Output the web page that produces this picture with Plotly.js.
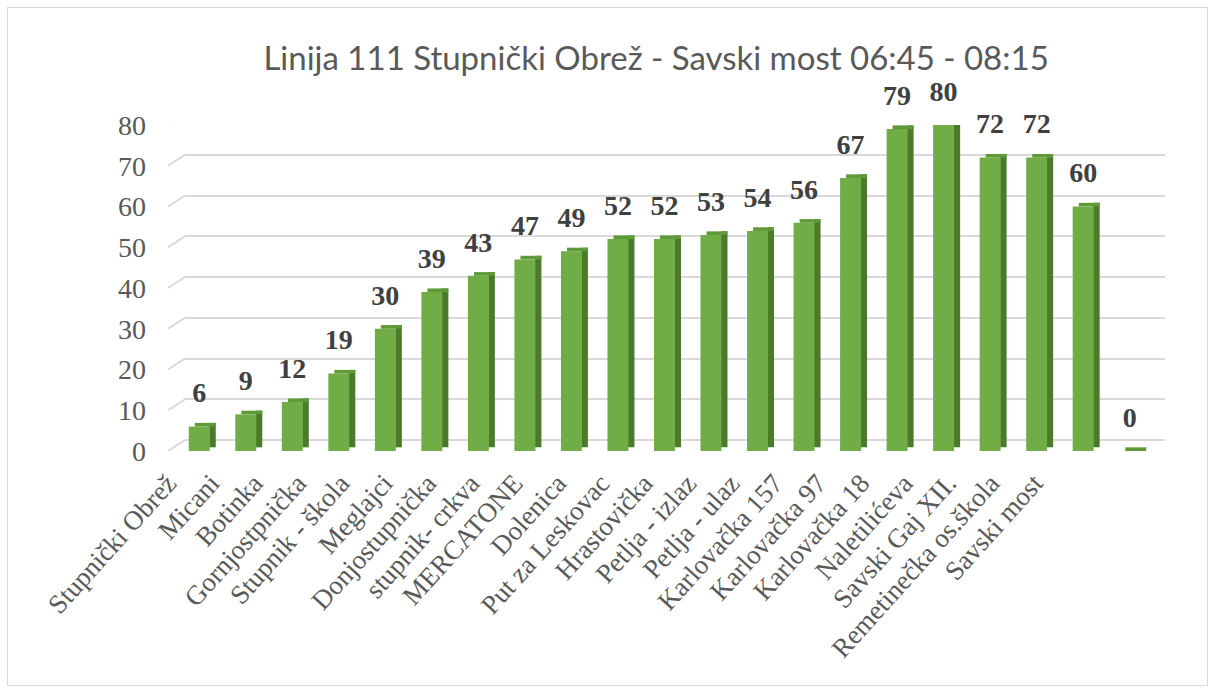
<!DOCTYPE html>
<html>
<head>
<meta charset="utf-8">
<script src="https://cdn.plot.ly/plotly-3.0.1.min.js"></script>
<style>
  html, body { margin: 0; padding: 0; background: #ffffff; }
  #wrap { position: relative; width: 1215px; height: 693px; }
  #chart { position: absolute; left: 0; top: 0; width: 1215px; height: 693px; }
  #frame { position: absolute; left: 7px; top: 7px; width: 1199px; height: 677px; border: 1px solid #d9d9d9; pointer-events: none; }
</style>
</head>
<body>
<div id="wrap">
  <div id="chart"></div>
  <div id="frame"></div>
</div>
<script>
const stops = [
  "Stupnički Obrež", "Micani", "Botinka", "Gornjostpnička", "Stupnik - škola",
  "Meglajci", "Donjostupnička", "stupnik- crkva", "MERCATONE", "Dolenica",
  "Put za Leskovac", "Hrastovička", "Petlja - izlaz", "Petlja - ulaz", "Karlovačka 157",
  "Karlovačka 97", "Karlovačka 18", "Naletilićeva", "Savski Gaj XII.", "Remetinečka os.škola",
  "Savski most"
];
const passengers = [6, 9, 12, 19, 30, 39, 43, 47, 49, 52, 52, 53, 54, 56, 67, 79, 80, 72, 72, 60, 0];
const titleText = "Linija 111 Stupnički Obrež - Savski most 06:45 - 08:15";
const yTicks = [0, 10, 20, 30, 40, 50, 60, 70, 80];

const SERIF = "'Liberation Serif', 'Times New Roman', serif";
const DEPTH = 0.9;        // visual depth of the bar 3D effect (axis units)
const WALL_SHIFT = 2.7;   // back-wall gridline lift (axis units)
const FRONT_W = 0.45;
const SIDE_W = 0.14;

// back wall (gridlines only) lives on x / y
const wallTrace = {
  type: "scatter", mode: "lines", x: [], y: [], xaxis: "x", yaxis: "y",
  hoverinfo: "skip", showlegend: false
};
// category labels (perspective-spaced, as in the 3D original) live on x3
const labelAxisTrace = {
  type: "scatter", mode: "lines", x: [], y: [], xaxis: "x3", yaxis: "y2",
  hoverinfo: "skip", showlegend: false
};

// bars live on x2 / y2 (drawn above the back wall)
const sideTrace = {
  type: "bar", x: stops, y: passengers, xaxis: "x2", yaxis: "y2",
  base: passengers.map(() => DEPTH),
  width: SIDE_W, offset: FRONT_W / 2 - 0.01,
  marker: { color: "#4b7a2b", line: { width: 0 } },
  hoverinfo: "skip", showlegend: false
};
const topTrace = {
  type: "bar", x: stops, y: passengers.map(() => DEPTH), xaxis: "x2", yaxis: "y2",
  base: passengers,
  width: FRONT_W, offset: -FRONT_W / 2 + SIDE_W - 0.01,
  marker: { color: "#5e9a38", line: { width: 0 } },
  hoverinfo: "skip", showlegend: false
};
const frontTrace = {
  type: "bar", x: stops, y: passengers, xaxis: "x2", yaxis: "y2",
  width: FRONT_W, offset: -FRONT_W / 2,
  marker: { color: "#70ad47", line: { width: 0 } },
  showlegend: false
};
const labelTrace = {
  type: "scatter", mode: "markers+text", x: stops, y: passengers, xaxis: "x2", yaxis: "y2",
  text: passengers.map(String), textposition: "top center",
  marker: { size: 26, opacity: 0 },
  textfont: { family: SERIF, size: 28, color: "#404040", weight: "bold" },
  cliponaxis: false, hoverinfo: "skip", showlegend: false
};

// slanted front edges of the 3D gridlines
const slantShapes = yTicks.map(v => ({
  type: "line", xref: "paper", yref: "y2",
  x0: 0.008, x1: 0.0249, y0: v, y1: v + WALL_SHIFT,
  line: { color: "#d9d9d9", width: 2 }, layer: "below"
}));

const layout = {
  width: 1215, height: 693,
  margin: { l: 160, r: 50, t: 125, b: 242 },
  paper_bgcolor: "rgba(0,0,0,0)", plot_bgcolor: "rgba(0,0,0,0)",
  barmode: "overlay",
  title: {
    text: titleText,
    font: { family: "Lato, 'Open Sans', sans-serif", size: 33, color: "#595959" },
    x: 0.54, xanchor: "center", y: 0.915, yanchor: "middle"
  },
  xaxis: {
    domain: [0.0249, 1], range: [0, 1], anchor: "y",
    showticklabels: false, showgrid: false, zeroline: false, showline: false, ticks: ""
  },
  yaxis: {
    domain: [0, 1], anchor: "x",
    range: [-WALL_SHIFT, 80 - WALL_SHIFT], tickvals: yTicks,
    showticklabels: false, showgrid: true, gridcolor: "#d9d9d9", gridwidth: 2,
    zeroline: false, showline: false, ticks: ""
  },
  xaxis2: {
    type: "category", anchor: "y2",
    domain: [0.0159, 0.988],
    range: [-0.5, stops.length - 0.5],
    showticklabels: false, showgrid: false, zeroline: false, showline: false, ticks: ""
  },
  xaxis3: {
    type: "linear", anchor: "y2",
    domain: [0.008, 0.9134],
    range: [-0.5, stops.length - 0.5],
    tickvals: stops.map((_, i) => i), ticktext: stops,
    tickangle: -48,
    tickfont: { family: SERIF, size: 27, color: "#595959" },
    showgrid: false, zeroline: false, showline: false, ticks: "",
    ticklabelstandoff: 10, ticklabelshift: -22
  },
  yaxis2: {
    domain: [0, 1], anchor: "x2",
    range: [0, 80], tickvals: yTicks,
    tickfont: { family: SERIF, size: 28, color: "#595959" },
    showgrid: false, zeroline: false, showline: false, ticks: "",
    ticklabelstandoff: 29
  },
  shapes: slantShapes
};

Plotly.newPlot("chart", [wallTrace, labelAxisTrace, sideTrace, topTrace, frontTrace, labelTrace], layout, { displayModeBar: false, staticPlot: true });
</script>
</body>
</html>
